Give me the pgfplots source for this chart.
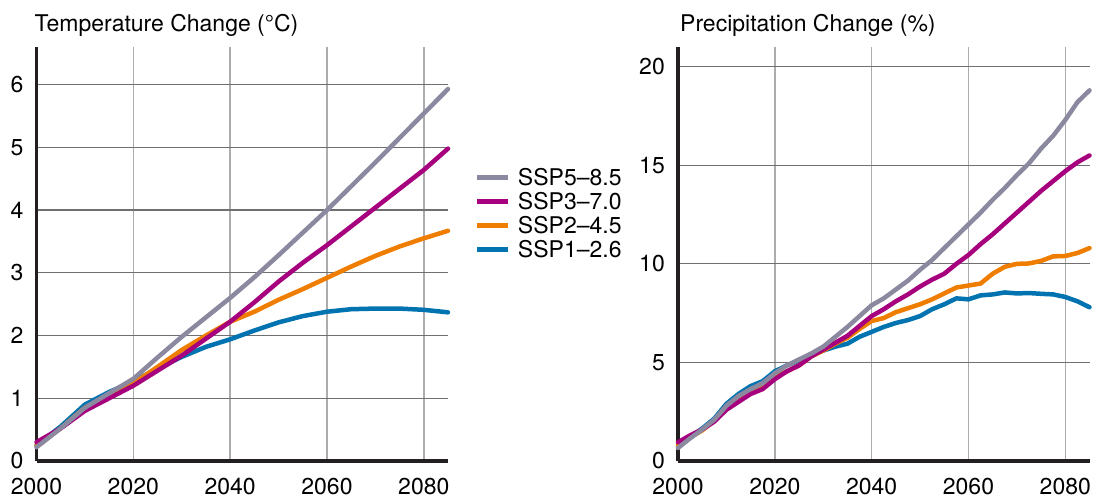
\documentclass[border=0pt]{standalone}
\usepackage{fontspec}
\setmainfont{TeX Gyre Heros}
\usepackage{pgfplots}
\usepackage{pgfplotstable}
\pgfplotsset{compat=1.18}

\definecolor{cgray}{RGB}{139,137,160}
\definecolor{cmag}{RGB}{166,0,126}
\definecolor{corange}{RGB}{238,125,0}
\definecolor{cblue}{RGB}{0,115,176}
\definecolor{gridh}{RGB}{112,112,114}
\definecolor{gridv}{RGB}{172,172,174}
\definecolor{axisc}{RGB}{35,31,32}

\pgfplotstableread{
year gray mag orange blue
2000 0.22 0.30 0.25 0.25
2005 0.52 0.52 0.52 0.55
2010 0.85 0.80 0.85 0.90
2015 1.08 1.00 1.05 1.10
2020 1.31 1.20 1.24 1.27
2025 1.65 1.44 1.50 1.47
2030 1.98 1.68 1.77 1.66
2035 2.29 1.95 2.00 1.82
2040 2.60 2.22 2.22 1.94
2045 2.93 2.53 2.38 2.08
2050 3.28 2.86 2.57 2.21
2055 3.64 3.16 2.74 2.31
2060 4.00 3.44 2.92 2.38
2065 4.38 3.74 3.10 2.42
2070 4.76 4.04 3.27 2.43
2075 5.15 4.34 3.42 2.43
2080 5.54 4.64 3.55 2.41
2085 5.93 4.98 3.67 2.37
}\temptable

\pgfplotstableread{
year gray mag orange blue
2000 0.66 0.95 0.80 0.75
2002.5 1.15 1.30 1.20 1.20
2005 1.60 1.60 1.55 1.65
2007.5 2.10 2.00 2.05 2.15
2010 2.80 2.60 2.75 2.90
2012.5 3.30 3.00 3.20 3.40
2015 3.65 3.40 3.60 3.80
2017.5 3.95 3.65 3.85 4.05
2020 4.45 4.15 4.25 4.55
2022.5 4.85 4.55 4.55 4.85
2025 5.15 4.85 4.85 5.10
2027.5 5.45 5.30 5.30 5.40
2030 5.80 5.65 5.60 5.60
2032.5 6.30 6.00 5.95 5.80
2035 6.80 6.35 6.25 5.95
2037.5 7.35 6.85 6.70 6.30
2040 7.90 7.35 7.10 6.55
2042.5 8.25 7.70 7.25 6.80
2045 8.70 8.10 7.55 7.00
2047.5 9.15 8.45 7.75 7.15
2050 9.70 8.85 7.95 7.35
2052.5 10.20 9.20 8.20 7.70
2055 10.80 9.50 8.50 7.95
2057.5 11.40 10.00 8.80 8.25
2060 12.00 10.45 8.90 8.20
2062.5 12.60 11.00 9.00 8.40
2065 13.25 11.50 9.50 8.45
2067.5 13.85 12.05 9.85 8.55
2070 14.50 12.60 10.00 8.50
2072.5 15.10 13.15 10.02 8.52
2075 15.85 13.70 10.15 8.48
2077.5 16.50 14.20 10.38 8.45
2080 17.30 14.70 10.40 8.32
2082.5 18.20 15.15 10.55 8.10
2085 18.80 15.50 10.80 7.80
}\prectable

\pgfplotsset{
  panel/.style={
    scale only axis, width=411.5pt, height=414pt,
    xmin=2000, xmax=2085, ymin=0,
    axis lines=left,
    axis line style={-, line width=3.5pt, color=axisc},
    xtick={2000,2020,2040,2060,2080},
    major tick length=0pt,
    tick style={draw=none},
    xmajorgrids, ymajorgrids,
    major x grid style={gridv, line width=1.5pt},
    major y grid style={gridh, line width=1.2pt},
    /pgf/number format/1000 sep={},
    /pgf/number format/assume math mode=true,
    tick label style={font=\fontsize{23}{27}\selectfont},
    xticklabel style={anchor=north, inner sep=0pt, yshift=-16.5pt},
    yticklabel style={anchor=east, inner sep=0pt, xshift=-13pt},
    clip=false,
    every axis plot/.append style={line width=4.5pt, line join=round, line cap=round},
  }
}

\begin{document}
\begin{tikzpicture}
\useasboundingbox (0,0) rectangle (1104pt,499pt);

\begin{axis}[panel, at={(36.5pt,38pt)}, anchor=south west,
  ymax=6.6, ytick={0,1,2,3,4,5,6},
  reverse legend, legend cell align=left,
  legend style={at={(rel axis cs:1.0656,0.7126)}, anchor=north west,
    draw=none, fill=none, inner sep=0pt, outer sep=0pt,
    font=\fontsize{23}{27}\selectfont,
    nodes={inner sep=0pt, text height=20pt, text depth=4pt},
    /tikz/every odd column/.append style={column sep=8pt}},
  legend image code/.code={\draw[#1, line width=5pt, line cap=butt] (0pt,0pt) -- (30pt,0pt);},
]
\addplot[cblue] table[x=year, y=blue] {\temptable};
\addlegendentry{SSP1–2.6}
\addplot[corange] table[x=year, y=orange] {\temptable};
\addlegendentry{SSP2–4.5}
\addplot[cmag] table[x=year, y=mag] {\temptable};
\addlegendentry{SSP3–7.0}
\addplot[cgray] table[x=year, y=gray] {\temptable};
\addlegendentry{SSP5–8.5}
\node[anchor=base west, inner sep=0pt, font=\fontsize{23}{27}\selectfont]
  at ([xshift=-2pt, yshift=16pt]rel axis cs:0,1) {Temperature Change (°C)};
\end{axis}

\begin{axis}[panel, at={(678pt,38pt)}, anchor=south west,
  ymax=21, ytick={0,5,10,15,20},
]
\addplot[cblue] table[x=year, y=blue] {\prectable};
\addplot[corange] table[x=year, y=orange] {\prectable};
\addplot[cmag] table[x=year, y=mag] {\prectable};
\addplot[cgray] table[x=year, y=gray] {\prectable};
\node[anchor=base west, inner sep=0pt, font=\fontsize{23}{27}\selectfont]
  at ([xshift=2pt, yshift=15pt]rel axis cs:0,1) {Precipitation Change (\%)};
\end{axis}
\end{tikzpicture}
\end{document}
